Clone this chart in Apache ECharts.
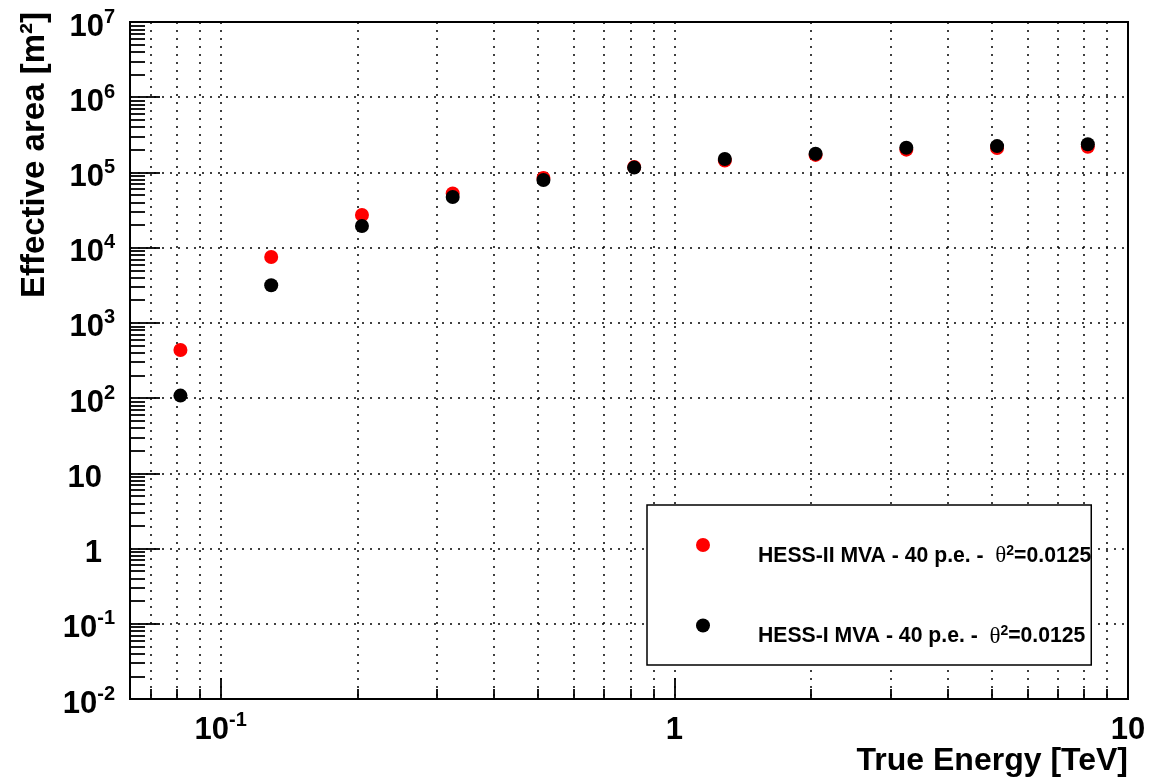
<!DOCTYPE html>
<html><head><meta charset="utf-8">
<script src="https://cdn.jsdelivr.net/npm/echarts@6/dist/echarts.min.js"></script>
<style>html,body{margin:0;padding:0;background:#fff}#c{width:1154px;height:780px}</style>
</head><body><div id="c"></div>
<script>
// True energy (bin centres, TeV)
const energy = [0.0815, 0.1292, 0.2048, 0.3246, 0.5145, 0.8155, 1.292, 2.048, 3.246, 5.145, 8.155];
// Effective area [m^2]
const areaHessII = [436, 7510, 27200, 52500, 84300, 118000, 144000, 171000, 201000, 211000, 220000];
const areaHessI  = [108, 3160, 19400, 47100, 79200, 116000, 151000, 177000, 213000, 224000, 237000];
const seriesNames = ['HESS-II MVA - 40 p.e. - ', 'HESS-I MVA - 40 p.e. - '];
const thetaCut = '0.0125';
const xTitle = 'True Energy [TeV]';
const yTitle = 'Effective area [m²]';

const xRange = [0.0630957, 10];
const yRange = [0.01, 1e7];
const xMajorTicks = [0.1, 1, 10];
const yMajorTicks = [0.01, 0.1, 1, 10, 100, 1e3, 1e4, 1e5, 1e6, 1e7];
function minorTicks(e0, e1) {
  const out = [];
  for (let e = e0; e <= e1; e++) for (let m = 2; m <= 9; m++) out.push(Number((m * Math.pow(10, e)).toPrecision(3)));
  return out;
}
const xMinorTicks = minorTicks(-2, 0).filter(v => v > xRange[0] && v < xRange[1]);
const yMinorTicks = minorTicks(-2, 6);

const FONT = 'Liberation Sans';
const richLab = {
  b: { fontFamily: FONT, fontWeight: 'bold', fontSize: 31, lineHeight: 40, color: '#000' },
  s: { fontFamily: FONT, fontWeight: 'bold', fontSize: 20, lineHeight: 16, verticalAlign: 'top', color: '#000' },
  sp: { width: 13, fontSize: 20, lineHeight: 16 }
};
function powLabel(v, pad) {
  const e = Math.round(Math.log10(v));
  if (e === 0) return '{b|1}' + (pad ? '{sp| }' : '');
  if (e === 1) return '{b|10}' + (pad ? '{sp| }' : '');
  return '{b|10}{s|' + e + '}';
}
const dotted = { color: '#000', width: 1.5, type: [2, 6] };

const chart = echarts.init(document.getElementById('c'), null, { renderer: 'canvas' });
chart.setOption({
  backgroundColor: '#fff',
  animation: false,
  grid: { left: 130, right: 26, top: 22, bottom: 81, outerBoundsMode: 'none', containLabel: false,
          show: true, borderColor: '#000', borderWidth: 2, backgroundColor: 'transparent' },
  xAxis: [
    { type: 'log', logBase: 10, min: xRange[0], max: xRange[1], position: 'bottom',
      axisLine: { show: true, lineStyle: { color: '#000', width: 2 } },
      axisTick: { show: true, inside: true, length: 21, lineStyle: { color: '#000', width: 1.8 }, customValues: xMajorTicks },
      axisLabel: { show: true, margin: 11, customValues: xMajorTicks, formatter: v => powLabel(v, false), rich: richLab },
      splitLine: { show: true, lineStyle: dotted }
    },
    { type: 'log', logBase: 10, min: xRange[0], max: xRange[1], position: 'bottom',
      axisLine: { show: false },
      axisTick: { show: true, inside: true, length: 10, lineStyle: { color: '#000', width: 1.8 }, customValues: xMinorTicks },
      axisLabel: { show: false },
      splitLine: { show: true, lineStyle: dotted }
    }
  ],
  yAxis: [
    { type: 'log', logBase: 10, min: yRange[0], max: yRange[1], position: 'left',
      axisLine: { show: true, lineStyle: { color: '#000', width: 2 } },
      axisTick: { show: true, inside: true, length: 30, lineStyle: { color: '#000', width: 1.8 }, customValues: yMajorTicks },
      axisLabel: { show: true, margin: 15, padding: [10, 0, 0, 0], customValues: yMajorTicks, formatter: v => powLabel(v, true), rich: richLab },
      splitLine: { show: true, lineStyle: dotted }
    },
    { type: 'log', logBase: 10, min: yRange[0], max: yRange[1], position: 'left',
      axisLine: { show: false },
      axisTick: { show: true, inside: true, length: 15, lineStyle: { color: '#000', width: 1.8 }, customValues: yMinorTicks },
      axisLabel: { show: false },
      splitLine: { show: false }
    }
  ],
  legend: {
    orient: 'vertical', left: 647, top: 505,
    padding: [33, 0, 17, 49], itemGap: 51,
    itemWidth: 14, itemHeight: 14, icon: 'circle',
    borderColor: '#000', borderWidth: 1.5, backgroundColor: '#fff',
    data: seriesNames,
    formatter: name => '{t|' + name + '}{th| θ}{sup|2}{t|=' + thetaCut + '}',
    textStyle: {
      padding: [22, 0, 0, 43],
      rich: {
        t: { fontFamily: FONT, fontWeight: 'bold', fontSize: 21.2, lineHeight: 24, color: '#000' },
        th: { fontFamily: 'Liberation Serif', fontWeight: 'normal', fontSize: 23, lineHeight: 24, color: '#000' },
        sup: { fontFamily: FONT, fontWeight: 'bold', fontSize: 14, lineHeight: 12, verticalAlign: 'top', color: '#000' }
      }
    }
  },
  graphic: [
    { type: 'text', x: 35, y: 12, rotation: Math.PI / 2,
      style: { text: yTitle, align: 'right', verticalAlign: 'middle', font: 'bold 33px "Liberation Sans"', fill: '#000' } },
    { type: 'text', x: 1128, y: 761,
      style: { text: xTitle, align: 'right', verticalAlign: 'middle', font: 'bold 32px "Liberation Sans"', fill: '#000' } }
  ],
  series: [
    { name: seriesNames[0], type: 'scatter', xAxisIndex: 0, yAxisIndex: 0, symbol: 'circle', symbolSize: 14,
      itemStyle: { color: '#ff0000', opacity: 1 }, data: energy.map((e, i) => [e, areaHessII[i]]) },
    { name: seriesNames[1], type: 'scatter', xAxisIndex: 0, yAxisIndex: 0, symbol: 'circle', symbolSize: 14,
      itemStyle: { color: '#000000', opacity: 1 }, data: energy.map((e, i) => [e, areaHessI[i]]) }
  ]
});
</script></body></html>
